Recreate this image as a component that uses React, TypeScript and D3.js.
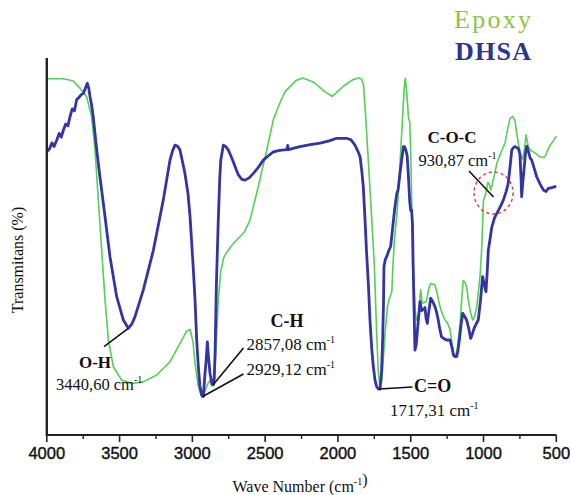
import React from 'react';
import * as d3 from 'd3';

const W = 571;
const H = 495;

const xTicks = [4000, 3500, 3000, 2500, 2000, 1500, 1000, 500];
const xMinorTicks = [3750, 3250, 2750, 2250, 1750, 1250, 750];
const seriesNames = ['Epoxy', 'DHSA'];

const epoxyWave = [
  4000, 3900, 3860, 3818, 3772, 3726, 3692, 3669, 3646, 3623, 3600, 3577, 3543, 3486, 3417, 3337, 3245, 3154, 3085, 3040,
  3015, 2995, 2982, 2960, 2936, 2915, 2895, 2880, 2866, 2850, 2835, 2822, 2805, 2785, 2764, 2719, 2673, 2640, 2604, 2547,
  2489, 2444, 2400, 2364, 2289, 2239, 2164, 2088, 2038, 1963, 1900, 1860, 1840, 1825, 1812, 1790, 1775, 1750, 1735, 1723,
  1712, 1700, 1685, 1674, 1660, 1648, 1630, 1622, 1612, 1596, 1587, 1562, 1545, 1537, 1528, 1515, 1507, 1500, 1492, 1484,
  1470, 1460, 1448, 1436, 1431, 1422, 1414, 1393, 1375, 1363, 1345, 1333, 1315, 1299, 1282, 1264, 1245, 1230, 1215, 1207,
  1192, 1180, 1161, 1150, 1139, 1128, 1116, 1105, 1093, 1075, 1060, 1047, 1035, 1024, 1013, 1005, 1001, 985, 970, 960,
  950, 940, 925, 909, 880, 852, 835, 818, 800, 784, 772, 761, 745, 731, 718, 708, 700, 692, 675, 658,
  635, 612, 590, 578, 560, 540, 520, 509, 500,
];
const epoxyT = [
  94.5, 94.5, 94.3, 93.9, 92.0, 89.7, 84.4, 75.6, 62.3, 49.0, 35.8, 25.2, 18.1, 14.6, 13.7, 14.1, 15.9, 19.4, 24.3, 27.5,
  28.0, 24.5, 19.0, 13.0, 10.0, 11.5, 13.5, 14.5, 13.0, 13.5, 25.0, 35.8, 43.5, 47.0, 48.5, 50.8, 52.6, 54.0, 57.0, 65.9,
  75.6, 83.6, 88.0, 91.0, 94.0, 94.7, 93.5, 91.0, 89.8, 92.5, 94.2, 94.7, 94.5, 93.0, 86.0, 72.0, 62.0, 45.0, 28.0, 17.0,
  12.8, 14.0, 22.0, 28.0, 34.0, 36.0, 38.0, 45.0, 52.0, 58.0, 63.0, 80.0, 92.0, 94.7, 91.0, 84.0, 83.0, 75.0, 60.0, 46.0,
  33.0, 30.5, 31.0, 37.0, 38.5, 35.0, 35.0, 35.4, 39.0, 40.2, 40.0, 39.8, 37.0, 34.0, 32.0, 30.5, 29.5, 27.9, 24.0, 21.5,
  21.0, 23.0, 29.6, 36.0, 41.0, 40.5, 39.4, 36.0, 33.2, 30.5, 31.5, 34.0, 38.0, 42.0, 49.0, 57.0, 62.0, 64.0, 67.0, 66.5,
  65.0, 66.5, 69.0, 72.0, 75.0, 77.4, 81.0, 84.0, 84.5, 83.5, 80.0, 77.4, 74.5, 73.0, 76.0, 79.6, 78.0, 76.5, 75.5, 75.1,
  74.5, 73.8, 73.6, 73.8, 75.5, 77.0, 78.0, 78.7, 79.3,
];

const dhsaWave = [
  4000, 3980, 3965, 3950, 3932, 3915, 3900, 3886, 3870, 3855, 3841, 3825, 3810, 3795, 3780, 3765, 3749, 3735, 3722, 3712,
  3703, 3692, 3681, 3669, 3657, 3646, 3635, 3600, 3566, 3520, 3474, 3440, 3415, 3394, 3337, 3268, 3200, 3154, 3135, 3119,
  3100, 3085, 3051, 3030, 3016, 2995, 2982, 2970, 2959, 2948, 2936, 2925, 2913, 2905, 2897, 2890, 2879, 2865, 2856, 2850,
  2844, 2835, 2822, 2812, 2805, 2787, 2770, 2753, 2735, 2719, 2700, 2684, 2660, 2638, 2610, 2581, 2547, 2513, 2480, 2444,
  2400, 2352, 2345, 2340, 2261, 2190, 2123, 2060, 2009, 1940, 1910, 1883, 1860, 1848, 1836, 1826, 1815, 1803, 1791, 1780,
  1768, 1757, 1745, 1734, 1722, 1711, 1700, 1693, 1687, 1684, 1675, 1665, 1650, 1638, 1624, 1610, 1596, 1587, 1575, 1562,
  1550, 1542, 1533, 1524, 1515, 1507, 1500, 1494, 1488, 1484, 1478, 1471, 1462, 1448, 1436, 1425, 1414, 1402, 1395, 1386,
  1375, 1363, 1350, 1333, 1322, 1311, 1300, 1288, 1270, 1253, 1230, 1215, 1207, 1195, 1184, 1175, 1166, 1155, 1143, 1130,
  1116, 1100, 1088, 1075, 1065, 1050, 1036, 1020, 1006, 995, 983, 975, 967, 955, 944, 925, 909, 885, 864, 845,
  830, 818, 806, 795, 784, 770, 761, 750, 742, 738, 730, 722, 712, 703, 690, 680, 669, 650, 635, 610,
  589, 570, 555, 530, 509, 500,
];
const dhsaT = [
  75.1, 76.0, 77.5, 76.5, 78.2, 80.0, 79.0, 80.9, 82.5, 82.0, 84.4, 86.5, 86.0, 88.9, 89.5, 90.2, 90.6, 92.0, 93.3, 92.0,
  89.7, 87.5, 84.4, 80.0, 75.6, 72.0, 68.5, 57.9, 47.3, 36.7, 30.5, 28.3, 29.5, 31.4, 38.5, 49.0, 62.3, 72.9, 75.5, 76.9,
  76.5, 75.6, 69.4, 64.0, 57.9, 45.0, 36.0, 25.0, 18.1, 13.0, 10.6, 10.2, 16.4, 20.0, 24.7, 21.0, 16.4, 13.5, 13.3, 15.0,
  21.7, 40.0, 57.0, 68.0, 72.9, 76.9, 76.5, 75.6, 74.0, 72.5, 70.5, 69.0, 67.8, 67.6, 68.2, 69.4, 71.0, 72.9, 74.0, 75.1,
  75.5, 75.7, 76.8, 75.7, 76.5, 77.0, 77.4, 78.0, 78.7, 78.7, 78.3, 76.9, 75.0, 73.8, 70.0, 65.9, 58.0, 48.2, 40.0, 30.5,
  23.0, 18.1, 14.5, 12.8, 12.2, 12.2, 17.0, 25.2, 35.0, 44.6, 46.5, 47.3, 49.0, 50.0, 55.0, 60.0, 64.0, 65.0, 69.0, 73.0,
  76.5, 76.5, 75.5, 74.0, 68.0, 62.0, 59.5, 59.7, 56.0, 46.0, 35.0, 22.5, 24.0, 30.5, 35.4, 33.0, 33.2, 33.8, 31.0, 29.6,
  33.0, 36.3, 35.5, 34.0, 32.5, 30.5, 28.0, 26.0, 25.5, 25.2, 25.2, 23.0, 21.2, 20.8, 20.8, 22.5, 25.2, 29.0, 32.3, 31.5,
  30.5, 28.0, 25.6, 27.0, 28.3, 29.5, 30.5, 36.0, 42.0, 40.0, 38.0, 43.0, 49.0, 52.0, 55.0, 57.5, 58.8, 60.5, 62.3, 64.5,
  66.8, 71.0, 75.6, 76.2, 76.5, 76.2, 76.0, 74.5, 68.0, 63.2, 67.0, 70.3, 74.5, 76.6, 75.0, 73.5, 72.9, 70.5, 68.5, 66.5,
  65.0, 64.6, 65.4, 65.6, 65.9, 65.8,
];

const SERIF = '"Liberation Serif", "Times New Roman", serif';
const SANS = '"Liberation Sans", Arial, sans-serif';

const GREEN = '#55cf55';
const BLUE = '#3434a4';

export default function App() {
  const x = d3.scaleLinear().domain([4000, 500]).range([46.8, 556.3]);
  const y = d3.scaleLinear().domain([0, 100]).range([435, 58]);

  const line = d3
    .line<[number, number]>()
    .x((d) => x(d[0]))
    .y((d) => y(d[1]))
    .curve(d3.curveLinear);

  const epoxy: [number, number][] = epoxyWave.map((w, i) => [w, epoxyT[i]]);
  const dhsa: [number, number][] = dhsaWave.map((w, i) => [w, dhsaT[i]]);

  const axisY = y(0);

  const sup = (t: string) => (
    <tspan dy={-7} fontSize={10}>
      {t}
    </tspan>
  );

  return (
    <svg
      width={W}
      height={H}
      viewBox={`0 0 ${W} ${H}`}
      style={{ position: 'absolute', left: 0, top: 0, background: '#fff' }}
    >
      <rect x={0} y={0} width={W} height={H} fill="#fff" />

      {/* legend */}
      <text x={454} y={28} fontFamily={SERIF} fontSize={26} fill="#8cc63f" textLength={77} lengthAdjust="spacing">
        {seriesNames[0]}
      </text>
      <text x={455} y={60} fontFamily={SERIF} fontSize={26} fontWeight="bold" fill="#2b3592" textLength={76} lengthAdjust="spacing">
        {seriesNames[1]}
      </text>

      {/* series */}
      <path d={line(epoxy) || ''} fill="none" stroke={GREEN} strokeWidth={1.6} strokeLinejoin="round" />
      <path d={line(dhsa) || ''} fill="none" stroke={BLUE} strokeWidth={2.8} strokeLinejoin="round" />

      {/* axes */}
      <line x1={x(4000)} x2={x(4000)} y1={58} y2={axisY + 1} stroke="#222" strokeWidth={2.4} />
      <line x1={x(4000)} x2={x(500)} y1={axisY} y2={axisY} stroke="#222" strokeWidth={2} />
      {xTicks.map((t) => (
        <g key={t}>
          <line x1={x(t)} x2={x(t)} y1={axisY} y2={axisY + 7} stroke="#222" strokeWidth={1.6} />
          <text x={x(t)} y={459} textAnchor="middle" fontFamily={SANS} fontSize={16.5} fill="#111" stroke="#111" strokeWidth={0.4}>
            {t}
          </text>
        </g>
      ))}
      {xMinorTicks.map((t) => (
        <line key={t} x1={x(t)} x2={x(t)} y1={axisY} y2={axisY + 4} stroke="#222" strokeWidth={1.4} />
      ))}

      {/* axis titles */}
      <text x={300} y={492} textAnchor="middle" fontFamily={SERIF} fontSize={16} fill="#111">
        Wave Number (cm{sup('-1')})
      </text>
      <text
        transform="translate(23,260) rotate(-90)"
        textAnchor="middle"
        fontFamily={SERIF}
        fontSize={16}
        fill="#111"
      >
        Transmitans (%)
      </text>

      {/* O-H annotation */}
      <line x1={x(3440.6)} y1={y(28.3)} x2={104} y2={346.7} stroke="#111" strokeWidth={1.6} />
      <text x={95} y={368} textAnchor="middle" fontFamily={SERIF} fontSize={17} fontWeight="bold" fill="#111">
        O-H
      </text>
      <text x={56} y={390} fontFamily={SERIF} fontSize={16.5} fill="#111">
        3440,60 cm{sup('-1')}
      </text>

      {/* C-H annotation */}
      <text x={287} y={327} textAnchor="middle" fontFamily={SERIF} fontSize={18} fontWeight="bold" fill="#111">
        C-H
      </text>
      <text x={246.5} y={350} fontFamily={SERIF} fontSize={17} fill="#111">
        2857,08 cm{sup('-1')}
      </text>
      <text x={246.5} y={375} fontFamily={SERIF} fontSize={17} fill="#111">
        2929,12 cm{sup('-1')}
      </text>
      <line x1={243.5} y1={348} x2={x(2857.08)} y2={y(13.3)} stroke="#111" strokeWidth={1.6} />
      <line x1={243.5} y1={374} x2={x(2929.12)} y2={y(10.2)} stroke="#111" strokeWidth={1.6} />

      {/* C=O annotation */}
      <line x1={x(1717.31)} y1={y(12.2)} x2={412.5} y2={387} stroke="#111" strokeWidth={1.6} />
      <text x={414} y={392} fontFamily={SERIF} fontSize={18} fontWeight="bold" fill="#111">
        C=O
      </text>
      <text x={390} y={416} fontFamily={SERIF} fontSize={17} fill="#111">
        1717,31 cm{sup('-1')}
      </text>

      {/* C-O-C annotation */}
      <text x={452} y={143} textAnchor="middle" fontFamily={SERIF} fontSize={17} fontWeight="bold" fill="#111">
        C-O-C
      </text>
      <text x={418.5} y={166} fontFamily={SERIF} fontSize={16.5} fill="#111">
        930,87 cm{sup('-1')}
      </text>
      <line x1={469} y1={171} x2={x(930.87)} y2={197} stroke="#111" strokeWidth={1.6} />
      <ellipse cx={x(930.87)} cy={193} rx={19.5} ry={21} fill="none" stroke="#e03c3c" strokeWidth={1.5} strokeDasharray="3,3" />
    </svg>
  );
}
